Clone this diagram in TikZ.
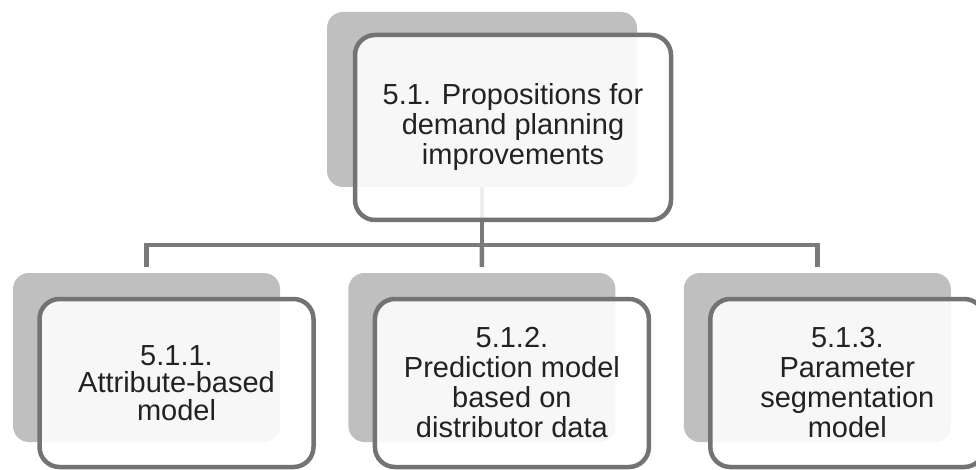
\documentclass[tikz,border=0pt]{standalone}
\usepackage{fontspec}
\setmainfont{Liberation Sans}
\usetikzlibrary{positioning,calc}

\definecolor{shadowgray}{HTML}{BFBFBF}
\definecolor{framegray}{HTML}{737373}
\definecolor{linkgray}{HTML}{7A7A7A}
\definecolor{inkgray}{HTML}{222222}

\tikzset{
  backcard/.style={fill=shadowgray, rounded corners=16pt, inner sep=0pt},
  frontcard/.style={draw=framegray, line width=4.5pt, fill=white, fill opacity=0.88,
    text opacity=1, text=inkgray, rounded corners=20pt, align=center, inner sep=0pt,
    font=\fontsize{29}{30}\selectfont},
  kidback/.style={backcard, minimum width=267pt, minimum height=169pt},
  kidfront/.style={frontcard, minimum width=274pt, minimum height=168pt},
  link/.style={draw=linkgray, line width=4.5pt},
}

\begin{document}
\begin{tikzpicture}[x=1pt, y=-1pt]
  \useasboundingbox (0,0) rectangle (976,470);
  % back cards
  \node (Ptop) [backcard, minimum width=310pt, minimum height=175pt] at (482,99.5) {};
  \node (Pattr) [kidback] at (146.5,357.5) {};
  \node (Ppred) [kidback, right=68pt of Pattr] {};
  \node (Pseg) [kidback, right=68pt of Ppred] {};
  % connectors
  \coordinate (bus) at (482,245);
  \draw[link] (Ptop.south) -- (bus);
  \draw[link, shorten >=6pt] (bus) -- (Ppred.north);
  \draw[link, shorten <=6pt, shorten >=6pt] (Pattr.north) |- (bus) -| (Pseg.north);
  % front cards
  \node (Ctop) [frontcard, minimum width=316pt, minimum height=185pt]
    at ([shift={(31,28)}]Ptop.center) {5.1. Propositions for\\demand planning\\improvements};
  \node (Cattr) [kidfront, font=\fontsize{29}{27.5}\selectfont]
    at ([shift={(30,25.5)}]Pattr.center) {5.1.1.\\Attribute-based\\model};
  \node (Cpred) [kidfront] at ([shift={(30,25.5)}]Ppred.center)
    {5.1.2.\\Prediction model\\based on\\distributor data};
  \node (Cseg) [kidfront] at ([shift={(30,25.5)}]Pseg.center)
    {5.1.3.\\Parameter\\segmentation\\model};
\end{tikzpicture}
\end{document}
